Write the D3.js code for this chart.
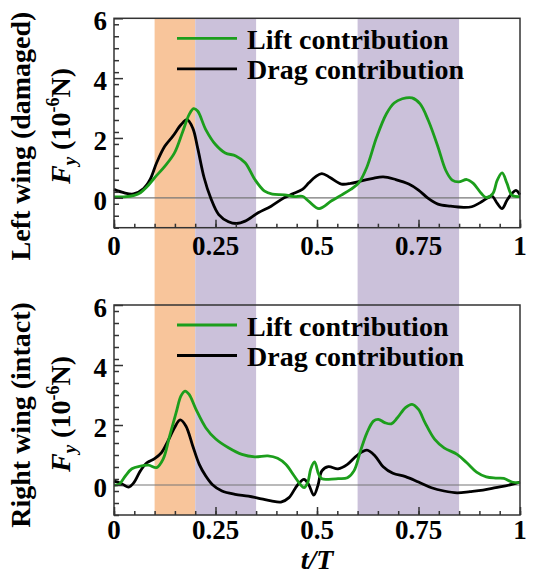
<!DOCTYPE html>
<html lang="en">
<head>
<meta charset="UTF-8" />
<title>Fy lift / drag contribution</title>
<script src="https://d3js.org/d3.v7.min.js"></script>
<style>
    body { margin: 0; background: #fff; }
    svg { display: block; }
</style>
</head>
<body>
<svg id="chart" width="534" height="578"></svg>
<script>
// ---- data ----
const xTicks = [0, 0.25, 0.5, 0.75, 1];
const xTickLabels = ["0", "0.25", "0.5", "0.75", "1"];
const yTicks = [0, 2, 4, 6];
const seriesNames = ["Lift contribution", "Drag contribution"];
const panelTitles = ["Left wing (damaged)", "Right wing (intact)"];

// shaded phases [start, end]
const orangeBands = [[0.1, 0.2]];
const purpleBands = [[0.2, 0.35], [0.6, 0.85]];

const leftLift = [[0,0.03],[0.025,0.03],[0.05,0.08],[0.065,0.17],[0.08,0.35],[0.1,0.67],[0.125,1.05],[0.149,1.5],[0.169,2.2],[0.185,2.78],[0.196,2.98],[0.206,2.9],[0.226,2.28],[0.25,1.78],[0.274,1.5],[0.3,1.4],[0.323,1.17],[0.347,0.61],[0.371,0.22],[0.39,0.12],[0.42,0.1],[0.444,0.04],[0.464,0.05],[0.48,-0.12],[0.505,-0.36],[0.536,-0.1],[0.56,0.09],[0.583,0.28],[0.603,0.5],[0.623,1.03],[0.647,2.03],[0.671,2.81],[0.69,3.17],[0.71,3.31],[0.734,3.34],[0.754,3.14],[0.774,2.59],[0.798,1.7],[0.817,0.92],[0.833,0.59],[0.849,0.53],[0.869,0.61],[0.885,0.48],[0.905,0.14],[0.917,0.01],[0.933,0.14],[0.944,0.59],[0.956,0.83],[0.968,0.48],[0.98,0.09],[1,0.04]];

const leftDrag = [[0,0.28],[0.024,0.17],[0.048,0.13],[0.073,0.31],[0.089,0.61],[0.105,1.17],[0.125,1.72],[0.145,2.06],[0.165,2.44],[0.18,2.61],[0.194,2.33],[0.206,1.67],[0.222,0.67],[0.238,0.0],[0.258,-0.56],[0.282,-0.8],[0.302,-0.86],[0.323,-0.78],[0.355,-0.5],[0.387,-0.28],[0.419,0.0],[0.44,0.13],[0.464,0.28],[0.48,0.5],[0.496,0.7],[0.512,0.81],[0.532,0.68],[0.56,0.46],[0.583,0.48],[0.607,0.56],[0.635,0.64],[0.663,0.7],[0.694,0.61],[0.726,0.46],[0.75,0.26],[0.774,-0.02],[0.798,-0.21],[0.829,-0.28],[0.861,-0.32],[0.881,-0.3],[0.901,-0.17],[0.921,0.0],[0.931,0.06],[0.944,-0.19],[0.956,-0.36],[0.968,-0.08],[0.98,0.14],[0.99,0.25],[1,0.1]];

const rightLift = [[0,0],[0.012,0.02],[0.028,0.3],[0.044,0.54],[0.065,0.63],[0.085,0.66],[0.105,0.58],[0.121,0.86],[0.137,1.63],[0.153,2.41],[0.165,2.97],[0.175,3.13],[0.185,3.02],[0.202,2.52],[0.226,1.91],[0.25,1.54],[0.282,1.24],[0.315,1.02],[0.347,0.94],[0.379,0.97],[0.403,0.89],[0.423,0.69],[0.444,0.3],[0.46,0.0],[0.468,-0.09],[0.477,0.08],[0.485,0.55],[0.494,0.77],[0.504,0.36],[0.512,0.21],[0.528,0.19],[0.552,0.21],[0.575,0.24],[0.591,0.47],[0.607,1.13],[0.623,1.74],[0.639,2.13],[0.651,2.19],[0.667,2.08],[0.683,2.04],[0.698,2.24],[0.718,2.58],[0.734,2.69],[0.75,2.52],[0.766,2.08],[0.79,1.52],[0.813,1.24],[0.845,1.02],[0.869,0.74],[0.893,0.43],[0.917,0.27],[0.94,0.23],[0.96,0.22],[0.98,0.1],[1,0.08]];

const rightDrag = [[0,0.13],[0.012,0.08],[0.024,0.0],[0.036,-0.07],[0.048,0.06],[0.065,0.47],[0.081,0.74],[0.1,0.88],[0.117,1.08],[0.133,1.47],[0.149,1.91],[0.163,2.17],[0.177,1.97],[0.194,1.3],[0.21,0.69],[0.226,0.3],[0.242,0.02],[0.266,-0.2],[0.298,-0.31],[0.331,-0.37],[0.363,-0.46],[0.387,-0.53],[0.411,-0.57],[0.431,-0.42],[0.452,0.0],[0.468,0.19],[0.48,0.0],[0.492,-0.34],[0.502,-0.03],[0.512,0.47],[0.528,0.61],[0.552,0.54],[0.575,0.69],[0.599,0.99],[0.623,1.16],[0.643,0.97],[0.663,0.61],[0.687,0.39],[0.718,0.28],[0.75,0.1],[0.782,-0.09],[0.813,-0.2],[0.845,-0.26],[0.877,-0.22],[0.909,-0.17],[0.94,-0.09],[0.98,0.02],[1,0.1]];

// ---- layout ----
const serif = "'Liberation Serif', 'Times New Roman', Times, 'DejaVu Serif', serif";
const svg = d3.select("#chart")
    .attr("font-family", serif)
    .attr("font-weight", "bold");
const green = "#1c9e1c";
const left = 114, right = 520;
const panels = [
    { top: 18.3, bottom: 227.7, lift: leftLift, drag: leftDrag, title: panelTitles[0], t1x: 30, t1y: 136, t2x: 70, t2y: 126, labOff: 27 },
    { top: 305, bottom: 515, lift: rightLift, drag: rightDrag, title: panelTitles[1], t1x: 30, t1y: 415, t2x: 70, t2y: 414, labOff: 24 }
];

const x = d3.scaleLinear().domain([0, 1]).range([left, right]);

// background bands span both panels
const bandTop = panels[0].top, bandBottom = panels[1].bottom;
svg.append("g").selectAll("rect.orange").data(orangeBands).enter().append("rect")
    .attr("x", d => x(d[0])).attr("width", d => x(d[1]) - x(d[0]))
    .attr("y", bandTop).attr("height", bandBottom - bandTop)
    .attr("fill", "#f8c59b");
svg.append("g").selectAll("rect.purple").data(purpleBands).enter().append("rect")
    .attr("x", d => x(d[0])).attr("width", d => x(d[1]) - x(d[0]))
    .attr("y", bandTop).attr("height", bandBottom - bandTop)
    .attr("fill", "#cbc1da");

panels.forEach(p => {
    const y = d3.scaleLinear().domain([-1, 6]).range([p.bottom, p.top]);
    const g = svg.append("g");

    // zero line
    g.append("line")
        .attr("x1", left).attr("x2", right)
        .attr("y1", y(0)).attr("y2", y(0))
        .attr("stroke", "#777").attr("stroke-width", 1.2);

    // curves
    const line = d3.line()
        .x(d => x(d[0])).y(d => y(d[1]))
        .curve(d3.curveCatmullRom.alpha(0.5));
    g.append("path").datum(p.drag)
        .attr("d", line).attr("fill", "none")
        .attr("stroke", "#000").attr("stroke-width", 2.8);
    g.append("path").datum(p.lift)
        .attr("d", line).attr("fill", "none")
        .attr("stroke", green).attr("stroke-width", 2.8);

    // frame
    g.append("rect")
        .attr("x", left).attr("y", p.top)
        .attr("width", right - left).attr("height", p.bottom - p.top)
        .attr("fill", "none").attr("stroke", "#333").attr("stroke-width", 1.5);

    // ticks (inward)
    const xAxis = d3.axisBottom(x).tickValues(xTicks).tickSize(-8).tickFormat("");
    const xMinor = d3.axisBottom(x).tickValues(d3.range(0, 1.001, 0.05)).tickSize(-4).tickFormat("");
    const yAxis = d3.axisLeft(y).tickValues(yTicks).tickSize(-9).tickFormat("");
    const yMinor = d3.axisLeft(y).tickValues(d3.range(-1, 6.001, 0.4)).tickSize(-5).tickFormat("");
    [[xMinor, "x"], [xAxis, "x"], [yMinor, "y"], [yAxis, "y"]].forEach(([ax, k]) => {
        const a = g.append("g")
            .attr("transform", k === "x" ? `translate(0,${p.bottom})` : `translate(${left},0)`)
            .call(ax)
            .attr("font-family", null).attr("font-size", null);
        a.select(".domain").remove();
        a.selectAll("line").attr("stroke", "#333").attr("stroke-width", 1.5);
    });

    // tick labels
    g.selectAll("text.xt").data(xTicks).enter().append("text")
        .attr("x", d => x(d)).attr("y", p.bottom + p.labOff)
        .attr("text-anchor", "middle").attr("font-size", 27)
        .text((d, i) => xTickLabels[i]);
    g.selectAll("text.yt").data(yTicks).enter().append("text")
        .attr("x", left - 7).attr("y", d => y(d) + 12)
        .attr("text-anchor", "end").attr("font-size", 27)
        .text(d => d);

    // legend
    const leg = g.append("g");
    [green, "#000"].forEach((c, i) => {
        const ly = p.top + 20 + i * 30.5;
        leg.append("line")
            .attr("x1", 177).attr("x2", 237).attr("y1", ly).attr("y2", ly)
            .attr("stroke", c).attr("stroke-width", 2.8);
        leg.append("text")
            .attr("x", 247).attr("y", ly + 10.5)
            .attr("font-size", 28)
            .text(seriesNames[i]);
    });

    // y titles
    g.append("text")
        .attr("transform", `translate(${p.t1x},${p.t1y}) rotate(-90)`)
        .attr("text-anchor", "middle").attr("font-size", 28)
        .text(p.title);
    const t2 = g.append("text")
        .attr("transform", `translate(${p.t2x},${p.t2y}) rotate(-90)`)
        .attr("text-anchor", "middle").attr("font-size", 28);
    t2.append("tspan").attr("font-style", "italic").text("F");
    t2.append("tspan").attr("font-style", "italic").attr("font-size", 19).attr("dy", 6).text("y");
    t2.append("tspan").attr("dy", -6).text(" (10");
    t2.append("tspan").attr("font-size", 18).attr("dy", -11).text("-6");
    t2.append("tspan").attr("dy", 11).text("N)");
});

// x title
svg.append("text")
    .attr("x", 317).attr("y", 569)
    .attr("text-anchor", "middle").attr("font-size", 28).attr("font-style", "italic")
    .text("t/T");
</script>
</body>
</html>
